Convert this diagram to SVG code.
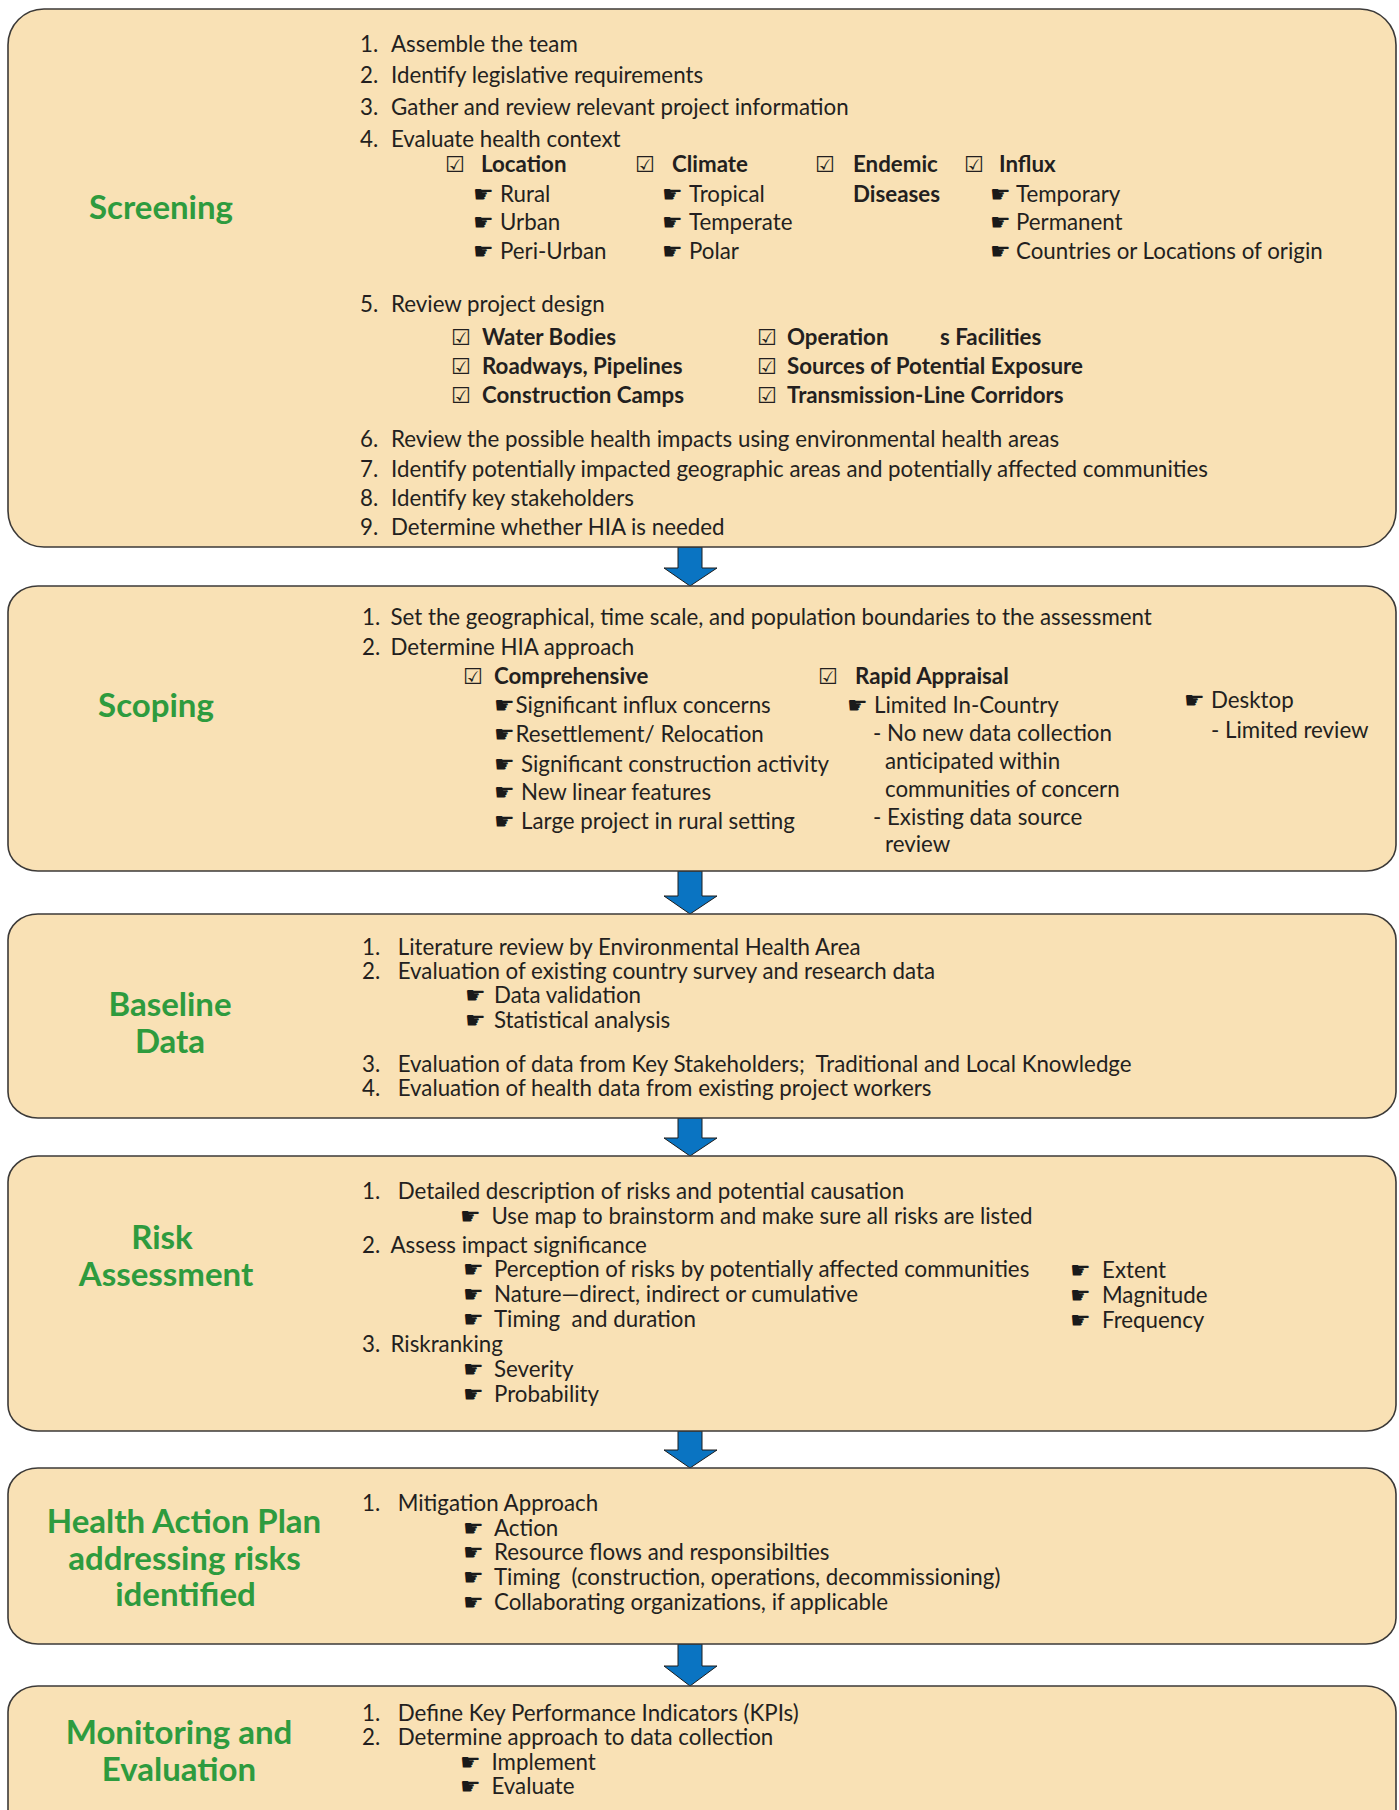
<svg xmlns="http://www.w3.org/2000/svg" width="1399" height="1810" viewBox="0 0 1399 1810">
<style>
.box { fill: #f9e1b5; stroke: #3c3a38; stroke-width: 1.6; }
.arr { fill: #0a74c2; stroke: #1c1c1c; stroke-width: 1; }
.t { font-family: Lato, "Liberation Sans", sans-serif; font-size: 22.3px; fill: #231f20; }
.b { font-weight: bold; }
.lbl { font-family: Lato, "Liberation Sans", sans-serif; font-weight: bold; font-size: 33px; fill: #2e9b3e; text-anchor: middle; }
.sym { font-family: "DejaVu Sans", sans-serif; font-size: 22px; fill: #231f20; }
.h { font-family: "DejaVu Sans", sans-serif; font-size: 23px; fill: #1a1a1a; }
</style>
<rect width="1399" height="1810" fill="#ffffff"/>
<g id="connectors">
  <path class="arr" d="M678,547 H702 V568 H717 L690,586 L664,568 H678 Z"/>
  <path class="arr" d="M678,871 H702 V896 H717 L690,914 L664,896 H678 Z"/>
  <path class="arr" d="M678,1118 H702 V1138 H717 L690,1156 L664,1138 H678 Z"/>
  <path class="arr" d="M678,1431 H702 V1450 H717 L690,1468 L664,1450 H678 Z"/>
  <path class="arr" d="M678,1644 H702 V1666 H717 L690,1686 L664,1666 H678 Z"/>
</g>

<g id="screening">
  <rect class="box" x="8" y="9" width="1388" height="538" rx="36" ry="36"/>
  <text class="lbl" x="161" y="219">Screening</text>
  <text class="t" x="360" y="51.7">1.</text><text class="t" x="391" y="51.7">Assemble the team</text>
  <text class="t" x="360" y="83.3">2.</text><text class="t" x="391" y="83.3">Identify legislative requirements</text>
  <text class="t" x="360" y="115">3.</text><text class="t" x="391" y="115">Gather and review relevant project information</text>
  <text class="t" x="360" y="146.7">4.</text><text class="t" x="391" y="146.7">Evaluate health context</text>
  <text class="sym" x="445" y="171.5">☑</text><text class="t b" x="481" y="171.5">Location</text>
  <text class="sym" x="635" y="171.5">☑</text><text class="t b" x="672" y="171.5">Climate</text>
  <text class="sym" x="815" y="171.5">☑</text><text class="t b" x="853" y="171.5">Endemic</text>
  <text class="sym" x="964" y="171.5">☑</text><text class="t b" x="999" y="171.5">Influx</text>
  <text class="h" x="473" y="201.7">☛</text><text class="t" x="500" y="201.7">Rural</text>
  <text class="h" x="473" y="230">☛</text><text class="t" x="500" y="230">Urban</text>
  <text class="h" x="473" y="259">☛</text><text class="t" x="500" y="259">Peri-Urban</text>
  <text class="h" x="662" y="201.7">☛</text><text class="t" x="689" y="201.7">Tropical</text>
  <text class="h" x="662" y="230">☛</text><text class="t" x="689" y="230">Temperate</text>
  <text class="h" x="662" y="259">☛</text><text class="t" x="689" y="259">Polar</text>
  <text class="t b" x="853" y="201.7">Diseases</text>
  <text class="h" x="990" y="201.7">☛</text><text class="t" x="1016" y="201.7">Temporary</text>
  <text class="h" x="990" y="230">☛</text><text class="t" x="1016" y="230">Permanent</text>
  <text class="h" x="990" y="259">☛</text><text class="t" x="1016" y="259">Countries or Locations of origin</text>
  <text class="t" x="360" y="311.7">5.</text><text class="t" x="391" y="311.7">Review project design</text>
  <text class="sym" x="451" y="345">☑</text><text class="t b" x="482" y="345">Water Bodies</text>
  <text class="sym" x="451" y="374.3">☑</text><text class="t b" x="482" y="374.3">Roadways, Pipelines</text>
  <text class="sym" x="451" y="403.3">☑</text><text class="t b" x="482" y="403.3">Construction Camps</text>
  <text class="sym" x="757" y="345">☑</text><text class="t b" x="787" y="345">Operation</text><text class="t b" x="940" y="345">s Facilities</text>
  <text class="sym" x="757" y="374.3">☑</text><text class="t b" x="787" y="374.3">Sources of Potential Exposure</text>
  <text class="sym" x="757" y="403.3">☑</text><text class="t b" x="787" y="403.3">Transmission-Line Corridors</text>
  <text class="t" x="360" y="446.7">6.</text><text class="t" x="391" y="446.7">Review the possible health impacts using environmental health areas</text>
  <text class="t" x="360" y="476.7">7.</text><text class="t" x="391" y="476.7">Identify potentially impacted geographic areas and potentially affected communities</text>
  <text class="t" x="360" y="506">8.</text><text class="t" x="391" y="506">Identify key stakeholders</text>
  <text class="t" x="360" y="535">9.</text><text class="t" x="391" y="535">Determine whether HIA is needed</text>
</g>

<g id="scoping">
  <rect class="box" x="8" y="586" width="1388" height="285" rx="30" ry="26"/>
  <text class="lbl" x="156" y="717">Scoping</text>
  <text class="t" x="362" y="625">1.</text><text class="t" x="390.5" y="625">Set the geographical, time scale, and population boundaries to the assessment</text>
  <text class="t" x="362" y="655">2.</text><text class="t" x="390.5" y="655">Determine HIA approach</text>
  <text class="sym" x="463" y="684">☑</text><text class="t b" x="494" y="684">Comprehensive</text>
  <text class="sym" x="818" y="684">☑</text><text class="t b" x="855" y="684">Rapid Appraisal</text>
  <text class="h" x="494" y="712.7">☛</text><text class="t" x="515.6" y="712.7">Significant influx concerns</text>
  <text class="h" x="494" y="742">☛</text><text class="t" x="515.6" y="742">Resettlement/ Relocation</text>
  <text class="h" x="494" y="771.7">☛</text><text class="t" x="521" y="771.7">Significant construction activity</text>
  <text class="h" x="494" y="800">☛</text><text class="t" x="521" y="800">New linear features</text>
  <text class="h" x="494" y="829.3">☛</text><text class="t" x="521" y="829.3">Large project in rural setting</text>
  <text class="h" x="847" y="712.7">☛</text><text class="t" x="874" y="712.7">Limited In-Country</text>
  <text class="t" x="873" y="740.7">- No new data collection</text>
  <text class="t" x="885" y="769">anticipated within</text>
  <text class="t" x="885" y="796.7">communities of concern</text>
  <text class="t" x="873" y="825">- Existing data source</text>
  <text class="t" x="885" y="852">review</text>
  <text class="h" x="1184" y="708">☛</text><text class="t" x="1211" y="708">Desktop</text>
  <text class="t" x="1211" y="738">- Limited review</text>
</g>

<g id="baseline-data">
  <rect class="box" x="8" y="914" width="1388" height="204" rx="30" ry="26"/>
  <text class="lbl" x="170" y="1016">Baseline</text>
  <text class="lbl" x="170" y="1052.7">Data</text>
  <text class="t" x="362" y="955">1.</text><text class="t" x="397.7" y="955">Literature review by Environmental Health Area</text>
  <text class="t" x="362" y="979.3">2.</text><text class="t" x="397.7" y="979.3">Evaluation of existing country survey and research data</text>
  <text class="h" x="465" y="1003.3">☛</text><text class="t" x="494" y="1003.3">Data validation</text>
  <text class="h" x="465" y="1028.3">☛</text><text class="t" x="494" y="1028.3">Statistical analysis</text>
  <text class="t" x="362" y="1071.7">3.</text><text class="t" x="397.7" y="1071.7" xml:space="preserve">Evaluation of data from Key Stakeholders;  Traditional and Local Knowledge</text>
  <text class="t" x="362" y="1096">4.</text><text class="t" x="397.7" y="1096">Evaluation of health data from existing project workers</text>
</g>

<g id="risk-assessment">
  <rect class="box" x="8" y="1156" width="1388" height="275" rx="30" ry="26"/>
  <text class="lbl" x="162" y="1249.3">Risk</text>
  <text class="lbl" x="166" y="1286">Assessment</text>
  <text class="t" x="362" y="1199.3">1.</text><text class="t" x="397.7" y="1199.3">Detailed description of risks and potential causation</text>
  <text class="h" x="460" y="1224.3">☛</text><text class="t" x="491.5" y="1224.3">Use map to brainstorm and make sure all risks are listed</text>
  <text class="t" x="362" y="1253.3">2.</text><text class="t" x="390.5" y="1253.3">Assess impact significance</text>
  <text class="h" x="463" y="1276.7">☛</text><text class="t" x="494" y="1276.7">Perception of risks by potentially affected communities</text>
  <text class="h" x="463" y="1301.7">☛</text><text class="t" x="494" y="1301.7">Nature—direct, indirect or cumulative</text>
  <text class="h" x="463" y="1326.7">☛</text><text class="t" x="494" y="1326.7" xml:space="preserve">Timing  and duration</text>
  <text class="t" x="362" y="1352.3">3.</text><text class="t" x="390.5" y="1352.3">Riskranking</text>
  <text class="h" x="463" y="1376.7">☛</text><text class="t" x="494" y="1376.7">Severity</text>
  <text class="h" x="463" y="1401.7">☛</text><text class="t" x="494" y="1401.7">Probability</text>
  <text class="h" x="1070" y="1278.3">☛</text><text class="t" x="1102" y="1278.3">Extent</text>
  <text class="h" x="1070" y="1303.3">☛</text><text class="t" x="1102" y="1303.3">Magnitude</text>
  <text class="h" x="1070" y="1327.7">☛</text><text class="t" x="1102" y="1327.7">Frequency</text>
</g>

<g id="health-action-plan">
  <rect class="box" x="8" y="1468" width="1388" height="176" rx="30" ry="26"/>
  <text class="lbl" x="184" y="1533">Health Action Plan</text>
  <text class="lbl" x="184.5" y="1569.5">addressing risks</text>
  <text class="lbl" x="185.5" y="1606">identified</text>
  <text class="t" x="362" y="1510.7">1.</text><text class="t" x="397.7" y="1510.7">Mitigation Approach</text>
  <text class="h" x="463" y="1535.7">☛</text><text class="t" x="494" y="1535.7">Action</text>
  <text class="h" x="463" y="1560">☛</text><text class="t" x="494" y="1560">Resource flows and responsibilties</text>
  <text class="h" x="463" y="1585">☛</text><text class="t" x="494" y="1585" xml:space="preserve">Timing  (construction, operations, decommissioning)</text>
  <text class="h" x="463" y="1610">☛</text><text class="t" x="494" y="1610">Collaborating organizations, if applicable</text>
</g>

<g id="monitoring-evaluation">
  <rect class="box" x="8" y="1686" width="1388" height="170" rx="30" ry="26"/>
  <text class="lbl" x="179" y="1744.3">Monitoring and</text>
  <text class="lbl" x="179" y="1781">Evaluation</text>
  <text class="t" x="362" y="1721">1.</text><text class="t" x="397.7" y="1721">Define Key Performance Indicators (KPIs)</text>
  <text class="t" x="362" y="1745">2.</text><text class="t" x="397.7" y="1745">Determine approach to data collection</text>
  <text class="h" x="460" y="1770">☛</text><text class="t" x="491.5" y="1770">Implement</text>
  <text class="h" x="460" y="1794.3">☛</text><text class="t" x="491.5" y="1794.3">Evaluate</text>
</g>
</svg>
